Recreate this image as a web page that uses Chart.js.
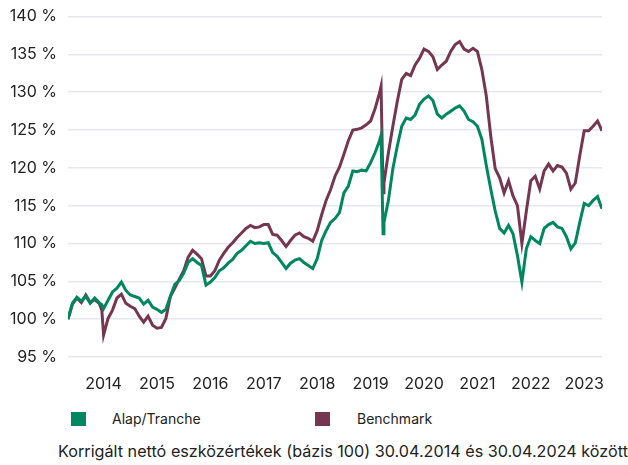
<!DOCTYPE html>
<html>
<head>
<meta charset="utf-8">
<script src="https://cdn.jsdelivr.net/npm/chart.js@4"></script>
<style>
  body { margin: 0; background: #fff; font-family: Inter, "Noto Sans", sans-serif; color: #222; }
  #wrap { position: relative; width: 628px; height: 465px; overflow: hidden; }
  #chart { position: absolute; left: 0; top: -4px; }
  .sq { position: absolute; width: 15px; height: 14px; }
  .lbl { position: absolute; font-size: 14px; line-height: 16px; }
  #caption { position: absolute; left: 58px; top: 441px; font-size: 16.2px; line-height: 20px; white-space: nowrap; }
</style>
</head>
<body>
<div id="wrap">
  <canvas id="chart" width="628" height="399"></canvas>
  <div class="sq" style="left:71px;top:412px;background:#00875f"></div>
  <div class="lbl" style="left:112px;top:411px">Alap/Tranche</div>
  <div class="sq" style="left:315px;top:412px;background:#753750"></div>
  <div class="lbl" style="left:357px;top:411px">Benchmark</div>
  <div id="caption">Korrigált nettó eszközértékek (bázis 100) 30.04.2014 és 30.04.2024 között</div>
</div>
<script>
// months since 30.04.2014
const months = [
  0, 1, 2, 3, 4, 5, 6, 7, 7.6, 8,
  9, 10, 11, 12, 13, 14, 15, 16, 17, 18, 19, 20,
  21, 22, 23, 24, 25, 26, 27, 28, 29, 30,
  31, 32, 33, 34, 35, 36, 37, 38, 39, 40,
  41, 42, 43, 44, 45, 46, 47, 48, 49, 50,
  51, 52, 53, 54, 55, 56, 57, 58, 59, 60,
  61, 62, 63, 64, 65, 66, 67, 68, 69, 70,
  70.35, 70.8,
  71, 72, 73, 74, 75, 76, 77, 78, 79, 80,
  81, 82, 83, 84, 85, 86, 87, 88, 89, 90,
  91, 92, 93, 94, 95, 96, 97, 98, 99, 100,
  101, 102, 103, 104, 105, 106, 107, 108, 109, 110,
  111, 112, 113, 114, 115, 116, 117, 118, 119, 120
];

const fund = [
  100.0, 102.1, 102.9, 102.4, 103.0, 102.1, 102.8, 102.2, 101.9, 101.4,
  102.5, 103.6, 104.1, 104.9, 103.8, 103.2, 103.0, 102.8, 102.0, 102.5, 101.6, 101.3,
  100.9, 101.3, 103.0, 104.6, 105.1, 106.1, 107.5, 108.0, 107.5, 107.1,
  104.5, 104.9, 105.5, 106.4, 106.8, 107.4, 107.9, 108.7, 109.1, 109.7,
  110.3, 110.0, 110.1, 110.0, 110.1, 108.8, 108.3, 107.5, 106.7, 107.4,
  107.8, 108.0, 107.5, 107.1, 106.7, 108.0, 110.4, 111.7, 112.8, 113.3,
  114.1, 116.7, 117.6, 119.6, 119.5, 119.7, 119.6, 120.7, 122.0, 123.6,
  124.3, 111.3,
  112.8, 115.7, 119.9, 122.9, 125.5, 126.6, 126.4, 127.0, 128.4, 129.1,
  129.5, 128.9, 127.1, 126.6, 127.1, 127.5, 127.9, 128.2, 127.5, 126.4,
  126.1, 125.5, 123.8, 120.3, 117.2, 114.3, 112.0, 111.4, 112.4, 111.3,
  108.4, 104.9, 109.3, 110.9, 110.4, 110.0, 112.0, 112.5, 112.8, 112.2,
  112.0, 110.9, 109.3, 110.1, 112.8, 115.3, 115.0, 115.7, 116.2, 114.6
];

const benchmark = [
  100.0, 102.0, 102.8, 102.2, 103.2, 102.2, 102.6, 102.1, 101.2, 97.9,
  100.1, 101.2, 102.8, 103.3, 102.1, 101.7, 101.4, 100.4, 99.6, 100.4, 99.2, 98.8,
  98.9, 100.1, 103.0, 104.1, 105.3, 106.4, 108.2, 109.1, 108.6, 108.0,
  105.7, 105.7, 106.4, 107.8, 108.7, 109.5, 110.1, 110.8, 111.4, 112.0,
  112.4, 112.1, 112.2, 112.5, 112.5, 111.2, 111.1, 110.4, 109.6, 110.4,
  111.1, 111.4, 110.9, 110.7, 110.3, 111.7, 113.8, 115.7, 117.1, 118.9,
  120.1, 121.8, 123.6, 125.0, 125.1, 125.3, 125.7, 126.2, 127.8, 129.9,
  130.8, 116.7,
  118.0, 122.0, 125.5, 128.8, 131.7, 132.5, 132.2, 133.6, 134.5, 135.7,
  135.4, 134.7, 133.0, 133.6, 134.1, 135.4, 136.3, 136.7, 135.7, 135.4,
  135.8, 135.4, 133.0, 129.5, 124.2, 119.9, 118.7, 116.7, 118.3, 116.3,
  115.0, 110.0, 114.3, 118.3, 118.9, 117.2, 119.6, 120.5, 119.6, 120.3,
  120.1, 119.3, 117.2, 118.0, 121.6, 124.9, 124.9, 125.5, 126.2, 124.9
];

const yearLabels = ['2014', '2015', '2016', '2017', '2018', '2019', '2020', '2021', '2022', '2023'];
const yearTickMonths = [8, 20, 32, 44, 56, 68, 80, 92, 104, 116];

const toPoints = vals => vals.map((v, i) => ({ x: months[i], y: v }));

new Chart(document.getElementById('chart'), {
  type: 'line',
  data: {
    datasets: [
      { label: 'Alap/Tranche', data: toPoints(fund), borderColor: '#00875f', borderWidth: 3 },
      { label: 'Benchmark', data: toPoints(benchmark), borderColor: '#753750', borderWidth: 3 }
    ]
  },
  options: {
    responsive: false,
    animation: false,
    elements: { point: { radius: 0 }, line: { tension: 0 } },
    layout: { padding: { top: 3, right: 26, left: 0, bottom: 0 } },
    plugins: { legend: { display: false }, tooltip: { enabled: false } },
    scales: {
      x: {
        type: 'linear',
        min: 0,
        max: 120,
        afterBuildTicks: axis => { axis.ticks = yearTickMonths.map(v => ({ value: v })); },
        afterFit: axis => { axis.height = 38; },
        ticks: {
          autoSkip: false,
          maxRotation: 0,
          color: '#222',
          font: { family: 'Inter', size: 16 },
          padding: 10,
          callback: v => yearLabels[yearTickMonths.indexOf(v)]
        },
        grid: { display: false },
        border: { display: false }
      },
      y: {
        min: 95,
        max: 140,
        afterFit: axis => { axis.width = 68; },
        ticks: {
          stepSize: 5,
          color: '#222',
          font: { family: 'Inter', size: 16 },
          padding: 11,
          callback: v => v + ' %'
        },
        grid: { color: '#e6e8ee', lineWidth: 1.5, drawTicks: false },
        border: { display: false }
      }
    }
  }
});
</script>
</body>
</html>
